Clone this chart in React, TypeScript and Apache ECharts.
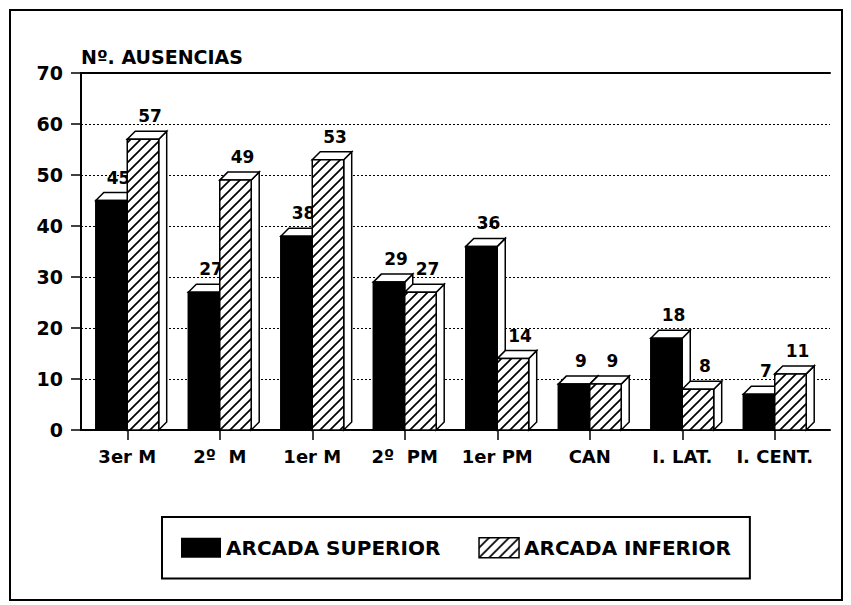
import React, { useEffect, useRef } from "react";
import * as echarts from "echarts";

const categories = ["3er M", "2º  M", "1er M", "2º  PM", "1er PM", "CAN", "I. LAT.", "I. CENT."];
const superiorValues = [45, 27, 38, 29, 36, 9, 18, 7];
const inferiorValues = [57, 49, 53, 27, 14, 9, 8, 11];
const seriesNames = ["ARCADA SUPERIOR", "ARCADA INFERIOR"];
const yTitle = "Nº. AUSENCIAS";

const FONT = "DejaVu Sans";

function makeHatch() {
  const c = document.createElement("canvas");
  c.width = 10;
  c.height = 10;
  const g = c.getContext("2d")!;
  g.fillStyle = "#fff";
  g.fillRect(0, 0, 10, 10);
  g.strokeStyle = "#000";
  g.lineWidth = 1.7;
  g.beginPath();
  g.moveTo(-1, 11);
  g.lineTo(11, -1);
  g.moveTo(-1, 1);
  g.lineTo(1, -1);
  g.moveTo(9, 11);
  g.lineTo(11, 9);
  g.stroke();
  return c;
}

export default function App() {
  const ref = useRef<HTMLDivElement>(null);
  useEffect(() => {
    if (!ref.current) return;
    const chart = echarts.init(ref.current, undefined, { renderer: "svg" });
    const hatch = { image: makeHatch(), repeat: "repeat" } as any;
    const D = 8;

    const makeRender = (side: number) => (params: any, api: any) => {
      const idx = api.value(0);
      const val = api.value(1);
      const base = api.coord([idx, 0]);
      const top = api.coord([idx, val]);
      const band = api.size([1, 0])[0];
      const w = band * 0.34;
      const x0 = side === 0 ? base[0] - w : base[0];
      const x1 = x0 + w;
      const yb = base[1];
      const yt = top[1];
      const stroke = { stroke: "#000", lineWidth: 1.5 };
      return {
        type: "group",
        children: [
          {
            type: "polygon",
            shape: { points: [[x1, yb], [x1 + D, yb - D], [x1 + D, yt - D], [x1, yt]] },
            style: { fill: "#fff", ...stroke },
          },
          {
            type: "polygon",
            shape: { points: [[x0, yt], [x0 + D, yt - D], [x1 + D, yt - D], [x1, yt]] },
            style: { fill: "#fff", ...stroke },
          },
          {
            type: "rect",
            shape: { x: x0, y: yt, width: w, height: yb - yt },
            style: side === 0 ? { fill: "#000", ...stroke } : { fill: hatch, ...stroke },
          },
          {
            type: "text",
            x: (x0 + x1) / 2 + 7,
            y: yt - D - 15,
            style: {
              text: String(val),
              fill: "#000",
              font: `bold 17px '${FONT}'`,
              align: "center",
              verticalAlign: "middle",
            },
          },
        ],
      };
    };

    const hiddenVal = {
      type: "value" as const,
      min: 0,
      max: 1,
      axisTick: { show: false },
      axisLabel: { show: false },
      splitLine: { show: false },
    };

    chart.setOption({
      animation: false,
      backgroundColor: "#fff",
      title: {
        text: yTitle,
        left: 76,
        top: 42,
        textStyle: { fontFamily: FONT, fontWeight: "bold", fontSize: 19, color: "#000" },
      },
      legend: {
        left: 162,
        top: 517,
        padding: [20, 19, 20, 19],
        borderColor: "#000",
        borderWidth: 2,
        itemWidth: 40,
        itemHeight: 20,
        itemGap: 38,
        textStyle: { fontFamily: FONT, fontWeight: "bold", fontSize: 20, color: "#000" },
        data: [
          { name: seriesNames[0], icon: "rect", itemStyle: { color: "#000", borderWidth: 0 } },
          { name: seriesNames[1], icon: "rect", itemStyle: { color: hatch, borderColor: "#000", borderWidth: 1.5 } },
        ],
      },
      graphic: [
        {
          type: "rect",
          shape: { x: 10, y: 10, width: 832, height: 590 },
          style: { fill: "none", stroke: "#000", lineWidth: 2 },
          z: -1,
        },
      ],
      grid: [
        { left: 81, right: 21, top: 73, bottom: 175 },
        { left: 81, right: 30, top: 73, bottom: 175 },
      ],
      xAxis: [
        { ...hiddenVal, gridIndex: 0, position: "bottom", axisLine: { show: true, onZero: false, lineStyle: { color: "#000", width: 2 } } },
        { ...hiddenVal, gridIndex: 0, position: "top", axisLine: { show: true, onZero: false, lineStyle: { color: "#000", width: 2 } } },
        {
          type: "category",
          gridIndex: 1,
          data: categories,
          axisLine: { show: false },
          axisTick: { show: true, alignWithLabel: true, length: 10, lineStyle: { color: "#000", width: 1.5 } },
          axisLabel: { margin: 17, fontFamily: FONT, fontWeight: "bold", fontSize: 18, color: "#000", interval: 0 },
        },
      ],
      yAxis: [
        {
          type: "value",
          gridIndex: 0,
          min: 0,
          max: 70,
          interval: 10,
          axisLine: { show: true, lineStyle: { color: "#000", width: 2 } },
          axisTick: { show: true, length: 10, lineStyle: { color: "#000", width: 1.5 } },
          axisLabel: { margin: 18, fontFamily: FONT, fontWeight: "bold", fontSize: 19, color: "#000" },
          splitLine: { show: true, lineStyle: { color: "#000", type: [2, 2], width: 1 } },
        },
        {
          type: "value",
          gridIndex: 0,
          position: "right",
          min: 0,
          max: 70,
          interval: 10,
          axisLine: { show: true, lineStyle: { color: "#000", width: 2 } },
          axisTick: { show: false },
          axisLabel: { show: false },
          splitLine: { show: false },
        },
        {
          type: "value",
          gridIndex: 1,
          min: 0,
          max: 70,
          interval: 10,
          show: false,
        },
      ],
      series: [
        {
          name: seriesNames[0],
          type: "custom",
          xAxisIndex: 2,
          yAxisIndex: 2,
          itemStyle: { color: "#000" },
          renderItem: makeRender(0),
          encode: { x: 0, y: 1 },
          data: superiorValues.map((v, i) => [i, v]),
        },
        {
          name: seriesNames[1],
          type: "custom",
          xAxisIndex: 2,
          yAxisIndex: 2,
          itemStyle: { color: hatch },
          renderItem: makeRender(1),
          encode: { x: 0, y: 1 },
          data: inferiorValues.map((v, i) => [i, v]),
        },
      ],
    });
    return () => chart.dispose();
  }, []);
  return (
    <div
      ref={ref}
      style={{ position: "fixed", left: 0, top: 0, width: 851, height: 605, background: "#fff" }}
    />
  );
}
